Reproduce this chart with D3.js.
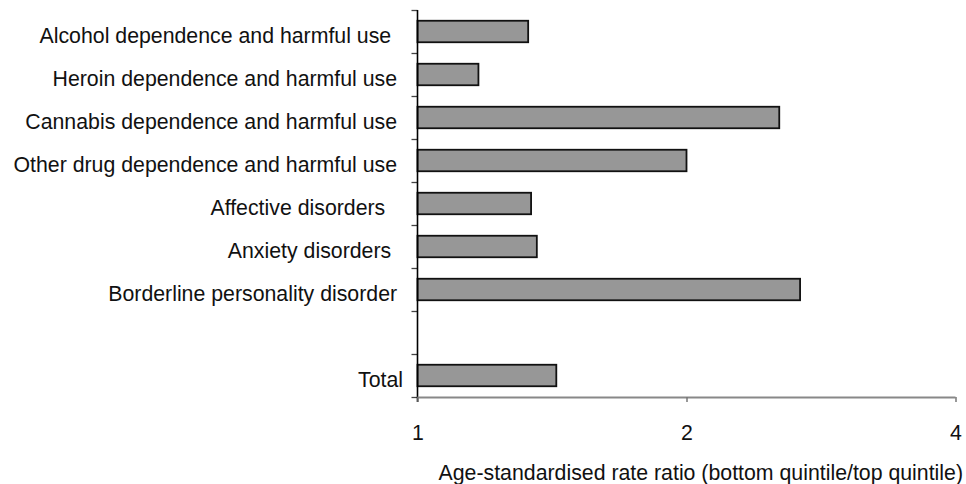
<!DOCTYPE html>
<html>
<head>
<meta charset="utf-8">
<script src="https://cdn.jsdelivr.net/npm/d3@7"></script>
<style>
  html, body { margin: 0; padding: 0; background: #fff; }
  svg text { font-family: "Liberation Sans", Arial, Helvetica, sans-serif; white-space: pre; }
</style>
</head>
<body>
<svg id="chart" width="966" height="484"></svg>
<script>
// ---- data ----
const categories = [
  "Alcohol dependence and harmful use  ",
  "Heroin dependence and harmful use ",
  "Cannabis dependence and harmful use ",
  "Other drug dependence and harmful use ",
  "Affective disorders   ",
  "Anxiety disorders  ",
  "Borderline personality disorder ",
  "",
  "Total"
];
const values = [1.33, 1.17, 2.54, 2.00, 1.34, 1.36, 2.68, null, 1.43];
const xTicks = [1, 2, 4];
const xTitle = "Age-standardised rate ratio (bottom quintile/top quintile)";

(function () {
// ---- layout ----
const svg = d3.select("#chart");
const mLeft = 417.5, mRight = 955.5, mTop = 10, mBottom = 397;
const fontSize = 21.3;

const x = d3.scaleLog().base(2).domain([1, 4]).range([mLeft, mRight]);
const y = d3.scaleBand().domain(d3.range(categories.length))
  .range([mTop, mBottom]).paddingInner(0.5).paddingOuter(0.25);
const yEdges = d3.scaleLinear().domain([0, categories.length]).range([mTop, mBottom]);

// bars
svg.append("g").selectAll("rect")
  .data(values.map((v, i) => ({v, i})).filter(d => d.v != null))
  .join("rect")
  .attr("x", x(1))
  .attr("y", d => y(d.i))
  .attr("width", d => x(d.v) - x(1))
  .attr("height", y.bandwidth())
  .attr("fill", "#979797")
  .attr("stroke", "#111")
  .attr("stroke-width", 1.8);

// left axis (ticks at category boundaries)
const yAxis = d3.axisLeft(yEdges).tickValues(d3.range(categories.length + 1))
  .tickSize(6).tickFormat("");
const gy = svg.append("g").attr("transform", `translate(${mLeft},0)`).call(yAxis);
gy.select(".domain").remove();
gy.selectAll(".tick line").attr("stroke", "#444").attr("stroke-width", 1.3);
svg.append("line").attr("x1", mLeft).attr("x2", mLeft).attr("y1", mTop).attr("y2", mBottom + 5)
  .attr("stroke", "#000").attr("stroke-width", 1.6);

// category labels
svg.append("g").selectAll("text")
  .data(categories)
  .join("text")
  .attr("x", 403)
  .attr("y", (d, i) => y(i) + y.bandwidth() / 2 + 11)
  .attr("text-anchor", "end")
  .attr("font-size", fontSize)
  .attr("fill", "#111")
  .text(d => d);

// bottom axis
const xAxis = d3.axisBottom(x).tickValues(xTicks).tickSize(5).tickFormat(d3.format("d"));
const gx = svg.append("g").attr("transform", `translate(0,${mBottom})`).call(xAxis);
gx.select(".domain").attr("stroke", "#888").attr("stroke-width", 2).attr("d", `M${mLeft},0.5H${mRight}`);
gx.selectAll(".tick line").attr("stroke", "#777").attr("stroke-width", 1.5);
gx.selectAll(".tick text")
  .attr("font-size", fontSize)
  .attr("font-family", "Liberation Sans, Arial, sans-serif")
  .attr("fill", "#111")
  .attr("y", 0).attr("dy", 0)
  .attr("transform", "translate(0,43)");

// axis title
svg.append("text")
  .attr("x", 963)
  .attr("y", 480)
  .attr("text-anchor", "end")
  .attr("font-size", fontSize)
  .attr("fill", "#111")
  .text(xTitle);
})();
</script>
</body>
</html>
